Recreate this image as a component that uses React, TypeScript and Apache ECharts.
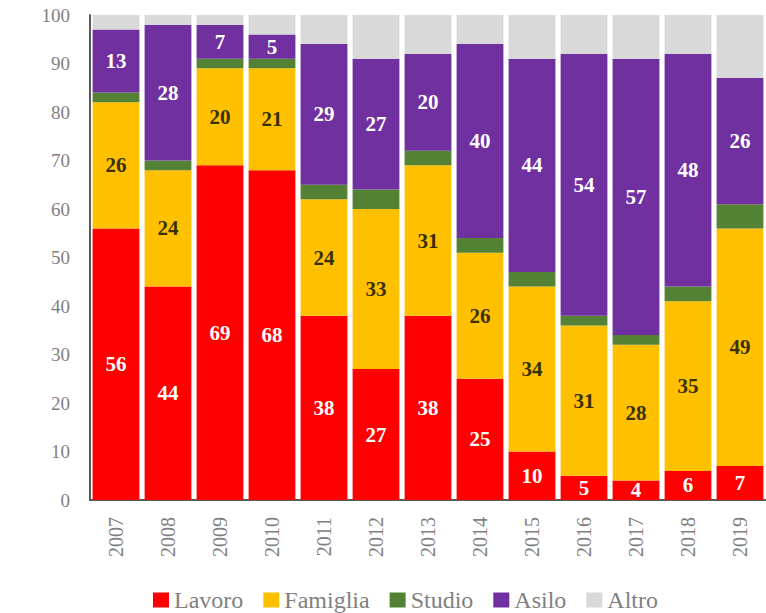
import React, { useEffect, useRef } from "react";
import * as echarts from "echarts";

const years = ["2007", "2008", "2009", "2010", "2011", "2012", "2013", "2014", "2015", "2016", "2017", "2018", "2019"];
const lavoro = [56, 44, 69, 68, 38, 27, 38, 25, 10, 5, 4, 6, 7];
const famiglia = [26, 24, 20, 21, 24, 33, 31, 26, 34, 31, 28, 35, 49];
const studio = [2, 2, 2, 2, 3, 4, 3, 3, 3, 2, 2, 3, 5];
const asilo = [13, 28, 7, 5, 29, 27, 20, 40, 44, 54, 57, 48, 26];
const altro = [3, 2, 2, 4, 6, 9, 8, 6, 9, 8, 9, 8, 13];
const yTicks = [0, 10, 20, 30, 40, 50, 60, 70, 80, 90, 100];
const legendNames = ["Lavoro", "Famiglia", "Studio", "Asilo", "Altro"];

const FONT = "Liberation Serif";

export default function App() {
  const ref = useRef<HTMLDivElement>(null);
  useEffect(() => {
    if (!ref.current) return;
    const chart = echarts.init(ref.current, null, { renderer: "svg" });
    const lbl = (color: string, show: boolean) => ({
      show,
      position: "inside",
      color,
      fontFamily: FONT,
      fontWeight: "bold",
      fontSize: 21,
    });
    const mk = (name: string, data: number[], color: string, labelColor: string, show: boolean) => ({
      name,
      type: "bar",
      stack: "total",
      data,
      barCategoryGap: "10%",
      itemStyle: { color },
      label: lbl(labelColor, show),
      emphasis: { disabled: true },
    });
    chart.setOption({
      animation: false,
      textStyle: { fontFamily: FONT },
      grid: { left: 90, top: 15, width: 683, bottom: 113, containLabel: false },
      legend: {
        top: 583,
        left: 148,
        itemWidth: 16,
        itemHeight: 15,
        itemGap: 20,
        icon: "rect",
        formatter: "{s|{name}}",
        textStyle: {
          fontFamily: FONT,
          fontSize: 24,
          color: "#7f7f7f",
          rich: { s: { fontFamily: FONT, fontSize: 24, color: "#7f7f7f" } },
        },
        data: legendNames,
      },
      xAxis: {
        type: "category",
        data: years,
        axisLine: { show: true, lineStyle: { color: "#595959", width: 2 } },
        axisTick: { show: false },
        axisLabel: { rotate: 90, fontFamily: FONT, fontSize: 20, color: "#7f7f7f", margin: 17 },
      },
      yAxis: {
        type: "value",
        min: yTicks[0],
        max: yTicks[yTicks.length - 1],
        interval: 10,
        splitLine: { show: false },
        axisLine: { show: true, lineStyle: { color: "#595959", width: 2 } },
        axisTick: { show: false },
        axisLabel: { fontFamily: FONT, fontSize: 19, color: "#7f7f7f", margin: 20 },
      },
      series: [
        mk("Lavoro", lavoro, "#FF0000", "#ffffff", true),
        mk("Famiglia", famiglia, "#FFC000", "#3a3000", true),
        mk("Studio", studio, "#548235", "#ffffff", false),
        mk("Asilo", asilo, "#7030A0", "#ffffff", true),
        mk("Altro", altro, "#D9D9D9", "#333333", false),
      ],
    });
    return () => chart.dispose();
  }, []);
  return <div ref={ref} style={{ position: "absolute", left: 0, top: 0, width: 766, height: 613 }} />;
}
